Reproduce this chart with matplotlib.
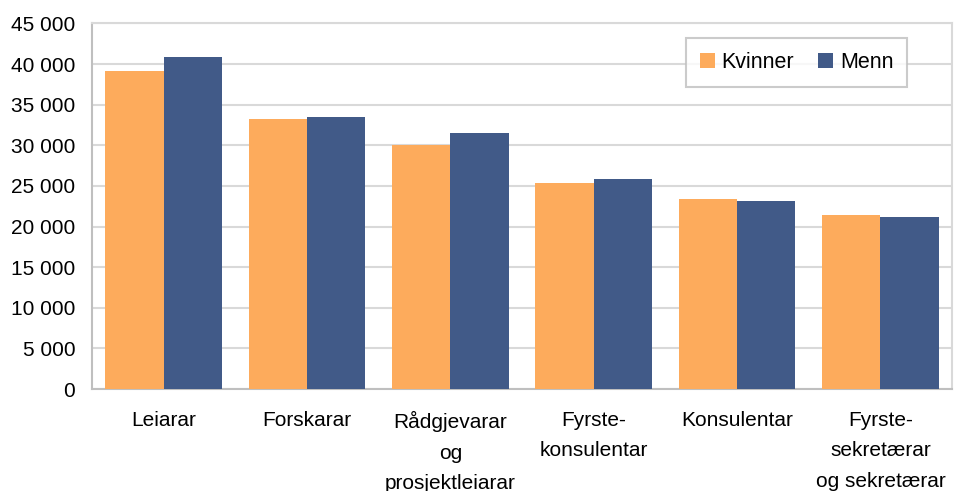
import numpy as np
import matplotlib.pyplot as plt
import matplotlib as mpl
from matplotlib.ticker import FuncFormatter

mpl.rcParams['font.family'] = ['Liberation Sans', 'DejaVu Sans']
mpl.rcParams['font.size'] = 15

# data
categories = ['Leiarar', 'Forskarar', 'Rådgjevarar\nog\nprosjektleiarar',
              'Fyrste-\nkonsulentar', 'Konsulentar', 'Fyrste-\nsekretærar\nog sekretærar']
kvinner = [39150, 33250, 30050, 25350, 23400, 21400]
menn = [40850, 33500, 31500, 25850, 23150, 21200]

ORANGE = '#FDAB5C'
BLUE = '#415A88'

fig = plt.figure(figsize=(9.55, 4.91), dpi=100)
ax = fig.add_axes([0.0963, 0.2077, 0.9007, 0.7445])

x = np.arange(len(categories))
w = 0.407
ax.bar(x - w / 2, kvinner, width=w, color=ORANGE, label='Kvinner', zorder=3)
ax.bar(x + w / 2, menn, width=w, color=BLUE, label='Menn', zorder=3)

ax.set_xlim(-0.5, len(categories) - 0.5)
ax.set_ylim(0, 45000)
ax.set_yticks(np.arange(0, 45001, 5000))
ax.yaxis.set_major_formatter(FuncFormatter(lambda v, p: f'{int(v):,}'.replace(',', ' ')))
ax.set_xticks(x)
ax.set_xticklabels(categories, linespacing=1.75, va='top')

ax.yaxis.grid(True, color='#D9D9D9', linewidth=1.5, zorder=0)
ax.tick_params(axis='both', length=0)
ax.tick_params(axis='y', pad=12)
ax.tick_params(axis='x', pad=16)
for s in ax.spines.values():
    s.set_color('#D9D9D9')
    s.set_linewidth(1.5)
ax.spines['left'].set_color('#BFBFBF')
ax.spines['bottom'].set_color('#BFBFBF')

leg = ax.legend(ncol=2, loc='upper right', bbox_to_anchor=(0.948, 0.96), borderaxespad=0,
                frameon=True, fancybox=False, handlelength=0.72, handleheight=0.72,
                handletextpad=0.3, columnspacing=1.1, borderpad=0.65, fontsize=15.5)
leg.get_frame().set_edgecolor('#BFBFBF')
leg.get_frame().set_linewidth(1.5)

plt.savefig('out.png', dpi=100)
